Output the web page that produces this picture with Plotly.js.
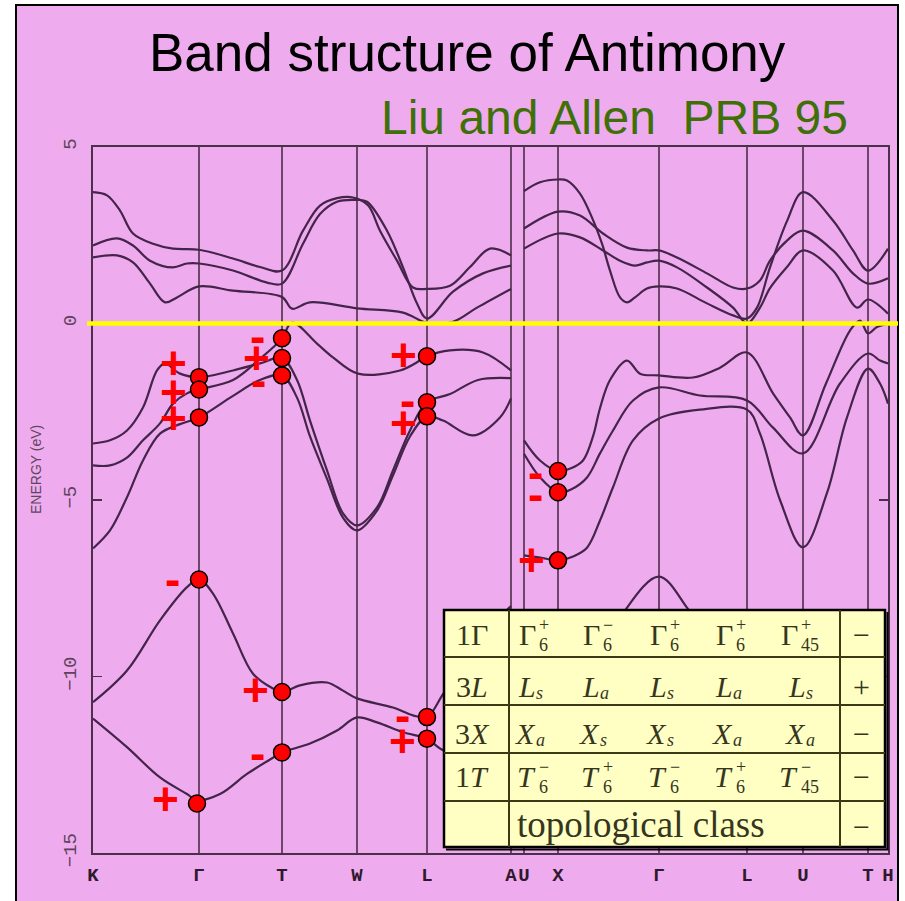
<!DOCTYPE html>
<html><head><meta charset="utf-8">
<script src="https://cdn.plot.ly/plotly-3.0.1.min.js"></script>
<style>html,body{margin:0;padding:0;background:#fff}#chart{width:905px;height:901px}</style>
</head><body><div id="chart"></div>
<script>
// ---------- DATA ----------
// k-path positions of high-symmetry points and their labels
const kPos    = [0, 106, 189, 264, 334, 418, 431, 465, 566, 654, 710, 775, 795];
const kLabels = ['K', 'Γ', 'T', 'W', 'L', 'A', 'U', 'X', 'Γ', 'L', 'U', 'T', 'H'];

// energy axis ticks (eV)
const eTicks = [-15, -10, -5, 0, 5];
const eTickText = ['−15', '−10', '−5', '0', '5'];

// bands, left segment K-Γ-T-W-L-A (energy in eV)
const c3L_k = [0,14,27,40,60,80,106,140,167,189,210,227,244,260,275,287,304,320,334,357,377,397,418];
const c3L_e = [3.72,3.63,3.2,2.55,2.26,2.12,2.09,1.84,1.60,1.50,2.63,3.34,3.55,3.57,3.35,2.63,1.78,1.02,0.98,1.07,1.6,2.12,1.93];
const c2L_k = [0,24,40,57,80,94,106,140,174,189,210,227,244,264,274,294,310,324,334,360,390,418];
const c2L_e = [2.21,2.41,2.21,1.78,1.59,1.70,1.70,1.50,1.16,1.13,2.26,3.1,3.45,3.5,3.45,2.63,1.59,0.57,0.14,0.9,1.42,1.64];
const c1L_k = [0,24,40,57,72,84,106,140,189,199,217,264,310,334,360,384,418];
const c1L_e = [1.87,1.93,1.73,1.13,0.6,0.74,1.05,0.93,0.75,0.42,0.6,0.43,0.31,0.02,0.05,0.45,0.98];
const v1L_k = [0,17,34,50,64,72,87,106,140,167,189,204,217,234,250,264,284,300,317,334,357,385,418];
const v1L_e = [-3.4,-3.31,-3.03,-2.38,-1.33,-1.13,-1.42,-1.52,-1.33,-1.13,-0.98,-1.6,-2.75,-4.16,-5.38,-5.72,-5.21,-4.16,-3.03,-2.23,-2.0,-1.6,-1.55];
const v2L_k = [0,17,34,50,67,80,94,106,140,167,189,199,224,240,265,307,327,334,357,390,418];
const v2L_e = [-4.02,-4.02,-3.8,-3.31,-2.83,-2.27,-1.98,-1.87,-1.6,-1.0,-0.42,0.03,-0.57,-0.96,-1.42,-1.33,-1.05,-0.93,-0.76,-0.82,-1.33];
const v3L_k = [0,17,34,50,67,87,106,140,167,189,204,217,234,250,264,284,300,317,334,350,380,407,418];
const v3L_e = [-6.37,-5.86,-4.92,-3.88,-3.12,-2.85,-2.66,-2.05,-1.6,-1.47,-2.1,-3.2,-4.4,-5.5,-5.86,-5.3,-4.3,-3.2,-2.63,-2.75,-3.17,-2.66,-2.12];
const s1L_k = [0,34,67,94,106,120,140,160,180,189,207,234,250,264,300,320,334,350,380,418];
const s1L_e = [-10.73,-9.83,-8.41,-7.47,-7.25,-7.65,-8.78,-9.92,-10.34,-10.45,-10.25,-10.17,-10.4,-10.62,-10.88,-11.1,-11.15,-10.5,-9.2,-8.0];
const s2L_k = [0,34,67,94,104,127,154,180,189,217,244,264,284,310,334,347,380,418];
const s2L_e = [-11.19,-12.0,-12.86,-13.33,-13.5,-13.33,-12.76,-12.3,-12.15,-11.9,-11.53,-11.16,-11.3,-11.58,-11.76,-12.04,-12.5,-12.8];

// bands, right segment U-X-Γ-L-U-T-H
const c3R_k = [431,447,465,474,487,499,509,517,527,534,542,554,566,584,614,640,654,664,677,694,710,740,760,775,795];
const c3R_e = [3.75,4.0,4.08,4.05,3.68,3.0,2.26,1.5,0.74,0.6,0.74,0.99,1.05,0.99,0.57,0.23,0.14,0.45,1.59,2.9,3.72,2.92,2.07,1.5,2.12];
const c2R_k = [431,465,487,510,534,554,566,584,614,640,654,667,677,694,710,740,760,775,795];
const c2R_e = [2.69,3.17,3.06,2.55,2.15,2.07,2.07,1.87,1.42,1.02,0.99,1.22,1.78,2.35,2.63,2.07,1.42,1.13,1.28];
const c1R_k = [431,465,487,510,527,542,554,566,584,614,640,654,667,677,694,710,740,764,775,795];
const c1R_e = [2.12,2.55,2.44,2.07,1.78,1.64,1.73,1.78,1.59,1.02,0.45,0.0,0.45,1.0,1.6,2.07,1.5,0.45,0.68,0.28];
const v1R_k = [431,447,465,478,490,500,507,517,534,547,566,600,627,654,680,697,710,733,757,767,775,784,795];
const v1R_e = [-3.31,-3.88,-4.18,-4.1,-3.88,-3.2,-2.4,-1.6,-1.05,-1.42,-1.47,-1.53,-1.25,-0.82,-1.98,-2.66,-3.17,-1.7,-0.2,0.08,-0.28,-0.1,0.0];
const v2R_k = [431,447,465,478,494,507,520,540,566,607,654,680,710,747,775,787,795];
const v2R_e = [-3.69,-4.36,-4.78,-4.7,-4.36,-3.68,-3.03,-2.18,-1.81,-2.04,-2.18,-2.95,-3.68,-1.7,-0.85,-1.05,-1.13];
const v3R_k = [431,447,465,480,494,507,520,540,566,607,654,667,687,710,734,754,775,787,795];
const v3R_e = [-6.57,-6.63,-6.71,-6.6,-6.35,-5.58,-4.64,-3.31,-2.69,-2.44,-2.44,-3.12,-5.0,-6.34,-4.8,-2.66,-1.28,-1.7,-2.27];
const s1R_k = [515,534,566,594,615];
const s1R_e = [-9.2,-8.05,-7.17,-8.05,-9.0];

// parity-marked states (red dots) and their parity labels
const dotK = [106,106,106,106,104, 189,189,189,189,189, 334,334,334,334,334, 465,465,465];
const dotE = [-1.52,-1.87,-2.66,-7.25,-13.6, -0.42,-0.98,-1.47,-10.44,-12.15, -0.93,-2.23,-2.63,-11.15,-11.76, -4.18,-4.78,-6.71];
const signK = [80,80,80, 164,163,165, 310,314,310, 79,162,164,72, 309,309, 442,442,438];
const signE = [-1.13,-1.95,-2.69, -0.34,-0.99,-1.59, -0.88,-2.18,-2.83, -7.25,-10.37,-12.18,-13.48, -11.08,-11.84, -4.22,-4.82,-6.71];
const signTxt = ['+','+','+', '-','+','-', '+','-','+', '-','+','-','+', '-','+', '-','-','+'];

// table of parities
const rowHeads = ['1Γ', '3<i>L</i>', '3<i>X</i>', '1<i>T</i>'];
const cellBase = [['Γ','Γ','Γ','Γ','Γ'], ['<i>L</i>','<i>L</i>','<i>L</i>','<i>L</i>','<i>L</i>'],
                  ['<i>X</i>','<i>X</i>','<i>X</i>','<i>X</i>','<i>X</i>'], ['<i>T</i>','<i>T</i>','<i>T</i>','<i>T</i>','<i>T</i>']];
const cellSub  = [['6','6','6','6','45'], ['<i>s</i>','<i>a</i>','<i>s</i>','<i>a</i>','<i>s</i>'],
                  ['<i>a</i>','<i>s</i>','<i>s</i>','<i>a</i>','<i>a</i>'], ['6','6','6','6','45']];
const cellSup  = [['+','−','+','+','+'], ['','','','',''], ['','','','',''], ['−','+','−','+','−']];
const rowSign  = ['−', '+', '−', '−', '−'];
const lastRowText = 'topological class';

// ---------- DRAWING ----------
const PINK = '#eeacee';
const BAND = '#44244a';
const FRAME = '#4a3048';
const L = 93, R = 888, T = 147, B = 853;
const xp = px => (px - L) / (R - L);
const yp = py => (B - py) / (B - T);

const bandList = [[c3L_k,c3L_e],[c2L_k,c2L_e],[c1L_k,c1L_e],[v1L_k,v1L_e],[v2L_k,v2L_e],[v3L_k,v3L_e],
                  [s1L_k,s1L_e],[s2L_k,s2L_e],[c3R_k,c3R_e],[c2R_k,c2R_e],[c1R_k,c1R_e],
                  [v1R_k,v1R_e],[v2R_k,v2R_e],[v3R_k,v3R_e],[s1R_k,s1R_e]];
const traces = bandList.map(([k, e]) => ({
  type: 'scatter', mode: 'lines', x: k, y: e,
  line: {color: BAND, width: 2.2, shape: 'spline', smoothing: 1},
  hoverinfo: 'skip', showlegend: false
}));
traces.push({
  type: 'scatter', mode: 'markers', x: dotK, y: dotE,
  marker: {size: 17, color: '#ff0000', line: {color: '#000', width: 1.5}},
  hoverinfo: 'skip', showlegend: false
});

const shapes = [];
// white margins outside the slide + border
shapes.push({type:'rect', xref:'paper', yref:'paper', x0:xp(0), x1:xp(15), y0:yp(901), y1:yp(0), fillcolor:'#fff', line:{width:0}, layer:'above'});
shapes.push({type:'rect', xref:'paper', yref:'paper', x0:xp(0), x1:xp(905), y0:yp(4), y1:yp(0), fillcolor:'#fff', line:{width:0}, layer:'above'});
shapes.push({type:'rect', xref:'paper', yref:'paper', x0:xp(899), x1:xp(905), y0:yp(901), y1:yp(0), fillcolor:'#fff', line:{width:0}, layer:'above'});
shapes.push({type:'path', xref:'paper', yref:'paper',
  path:`M${xp(16)},${yp(901)} L${xp(16)},${yp(5)} L${xp(898)},${yp(5)} L${xp(898)},${yp(901)}`,
  line:{color:'#000', width:2}, layer:'above'});
// symmetry-point verticals
kPos.slice(1, -1).forEach(k => shapes.push({type:'line', xref:'x', yref:'paper', x0:k, x1:k, y0:0, y1:1,
  line:{color:'#5e3c5a', width:1.8}, layer:'below'}));
// Fermi level
shapes.push({type:'line', xref:'paper', yref:'y', x0:xp(87), x1:xp(898), y0:0, y1:0,
  line:{color:'#ffff00', width:4.5}, layer:'above'});
// table
const tX0 = 444, tX1 = 885, tY0 = 610, tY1 = 847;
shapes.push({type:'rect', xref:'paper', yref:'paper', x0:xp(tX0), x1:xp(tX1), y0:yp(tY1), y1:yp(tY0),
  fillcolor:'#ffffc4', line:{color:'#000', width:2.5}, layer:'above'});
[657, 705, 753, 801].forEach(y => shapes.push({type:'line', xref:'paper', yref:'paper', x0:xp(tX0), x1:xp(tX1), y0:yp(y), y1:yp(y),
  line:{color:'#3a3a14', width:2}, layer:'above'}));
[509, 840].forEach(x => shapes.push({type:'line', xref:'paper', yref:'paper', x0:xp(x), x1:xp(x), y0:yp(tY1), y1:yp(tY0),
  line:{color:'#3a3a14', width:2}, layer:'above'}));
shapes.push({type:'path', xref:'paper', yref:'paper',
  path:`M${xp(446)},${yp(849.5)} L${xp(887.5)},${yp(849.5)} L${xp(887.5)},${yp(612)}`,
  line:{color:'#000', width:2}, layer:'above'});

const ann = [];
const txt = (px, py, text, size, color, fam, opts) => ann.push(Object.assign({
  xref:'paper', yref:'paper', x:xp(px), y:yp(py), text, showarrow:false,
  xanchor:'center', yanchor:'middle', font:{family:fam, size, color}}, opts || {}));

txt(467, 53, 'Band structure of Antimony', 53, '#000', 'Liberation Sans, Arial, sans-serif');
txt(614, 117, 'Liu and Allen\u00a0\u00a0PRB 95', 48, '#3f7008', 'Liberation Sans, Arial, sans-serif');
txt(36, 470, 'ENERGY (eV)', 14, '#5e465e', 'Liberation Sans, Arial, sans-serif', {textangle:-90});

// parity signs (boxes trimmed to the glyph so the stacked signs do not collide)
signK.forEach((k, i) => {
  const plus = signTxt[i] === '+';
  ann.push({xref:'x', yref:'y', x:k, y:signE[i], text:signTxt[i], showarrow:false,
    xanchor:'center', yanchor:'middle', height: plus ? 26 : 14, borderpad: 0, yshift: plus ? 0 : 0,
    font:{family:'Liberation Sans, Arial, sans-serif', size:46, color:'#ff0000', weight:'bold'}});
});

// table text
const SERIF = 'Liberation Serif, Times New Roman, serif';
const TC = '#36361e';
const rowY = [634, 686, 733, 776];
const colX = [536, 600, 667, 733, 806];
rowHeads.forEach((h, r) => txt(472, rowY[r], h, 30, TC, SERIF));
cellBase.forEach((row, r) => row.forEach((b, c) => {
  const wide = cellSub[r][c] === '45';
  const split = colX[c] + (wide ? -6 : 2);
  const italicSub = cellSub[r][c].startsWith('<i>');
  txt(split, rowY[r], b, 30, TC, SERIF, {xanchor:'right'});
  if (cellSup[r][c]) txt(split - 1, rowY[r] - 9, cellSup[r][c], 18, TC, SERIF, {xanchor:'left'});
  if (cellSub[r][c]) txt(split + (italicSub ? -4 : -1), rowY[r] + (cellSup[r][c] ? 11 : 7), cellSub[r][c], 18, TC, SERIF, {xanchor:'left'});
}));
rowSign.forEach((s, r) => txt(861, r < 4 ? rowY[r] : 826, s, 30, TC, SERIF));
txt(641, 824, lastRowText, 37, TC, SERIF);

const layout = {
  width: 905, height: 901,
  margin: {l: L, r: 905 - R, t: T, b: 901 - B, pad: 0},
  paper_bgcolor: PINK, plot_bgcolor: PINK,
  showlegend: false,
  xaxis: {range: [0, 795], showgrid: false, zeroline: false, showline: true, mirror: true,
    linecolor: FRAME, linewidth: 2, tickmode: 'array', tickvals: kPos, ticktext: kLabels,
    tickangle: 0, ticks: '', ticklabelstandoff: 3,
    tickfont: {family: 'Liberation Mono, Courier New, monospace', size: 19, color: '#2e1a2c', weight: 'bold'}},
  yaxis: {range: [-15, 5], showgrid: false, zeroline: false, showline: true, mirror: 'ticks',
    linecolor: FRAME, linewidth: 2, tickmode: 'array', tickvals: eTicks, ticktext: eTickText,
    ticks: 'inside', ticklen: 9, tickwidth: 1.5, tickcolor: FRAME, tickangle: -90, ticklabelstandoff: 7,
    tickfont: {family: 'Liberation Mono, Courier New, monospace', size: 19, color: '#5e425c'}},
  shapes: shapes,
  annotations: ann
};
Plotly.newPlot('chart', traces, layout, {staticPlot: true, displayModeBar: false});
</script></body></html>
